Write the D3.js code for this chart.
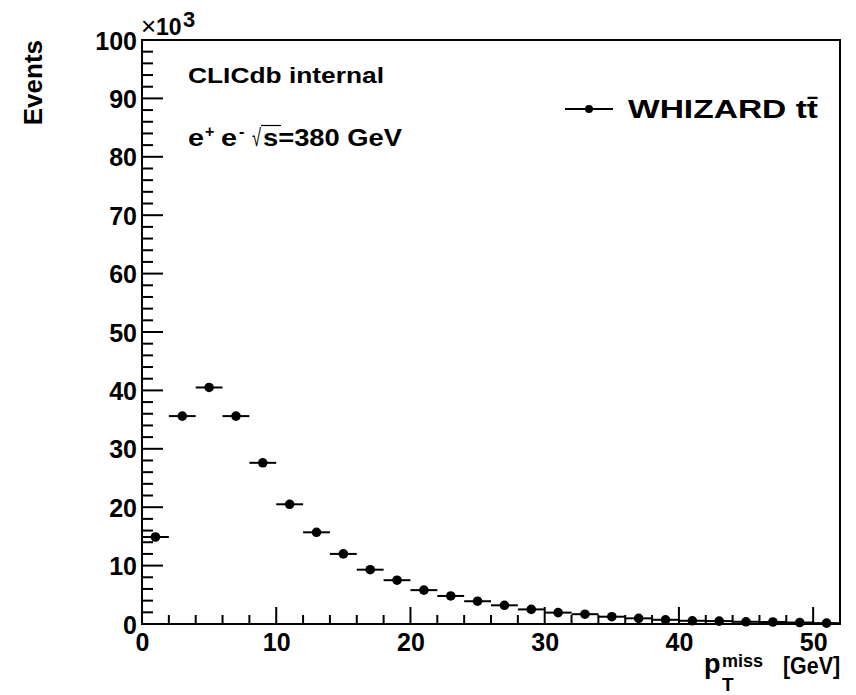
<!DOCTYPE html>
<html>
<head>
<meta charset="utf-8">
<script src="https://cdn.jsdelivr.net/npm/d3@7"></script>
<style>
  body { margin: 0; background: #fff; }
  text { font-family: "Liberation Sans", Arial, Helvetica, sans-serif; font-weight: bold; fill: #000; }
</style>
</head>
<body>
<svg id="svg"></svg>
<script>
/**
 * CONSTANTS AND GLOBALS
 * */
const width = 856,
  height = 695,
  margin = { top: 40, bottom: 71, left: 142, right: 16 };

// bin centres of p_T^miss [GeV], 2 GeV wide bins
const binCenters = d3.range(1, 52, 2);
const binWidth = 2;
// events per bin
const events = [14900, 35600, 40500, 35600, 27600, 20500, 15700, 12000, 9300, 7500,
  5800, 4800, 3900, 3200, 2500, 1950, 1680, 1250, 970, 720,
  550, 500, 380, 340, 250, 150];
const xTicks = [0, 10, 20, 30, 40, 50];
const yTicks = [0, 10, 20, 30, 40, 50, 60, 70, 80, 90, 100];

const data = binCenters.map((c, i) => ({ x: c, y: events[i] }));

const svg = d3.select("#svg")
  .attr("width", width)
  .attr("height", height);

const xScale = d3.scaleLinear()
  .domain([0, 52])
  .range([margin.left, width - margin.right]);

const yScale = d3.scaleLinear()
  .domain([0, 100000])
  .range([height - margin.bottom, margin.top]);

const y0 = yScale(0), x0 = xScale(0);

// tick marks (all ticks point into the frame, ROOT style)
const xTickVals = d3.range(2, 53, 2);
const yTickVals = d3.range(2000, 100001, 2000);

svg.append("g")
  .selectAll("rect")
  .data(xTickVals)
  .join("rect")
  .attr("x", v => xScale(v) - 1)
  .attr("y", v => y0 - (v % 10 === 0 ? 17 : 9))
  .attr("width", 2)
  .attr("height", v => (v % 10 === 0 ? 17 : 9))
  .attr("fill", "#000");

svg.append("g")
  .selectAll("rect")
  .data(yTickVals)
  .join("rect")
  .attr("x", x0)
  .attr("y", v => yScale(v) - 1)
  .attr("width", v => (v % 10000 === 0 ? 21 : 11))
  .attr("height", 2)
  .attr("fill", "#000");

function styleAxis(g) {
  g.select(".domain").remove();
  g.selectAll("line").remove();
  g.selectAll("text")
    .attr("font-size", 25)
    .attr("fill", "#000")
    .attr("font-family", "Liberation Sans, Arial, sans-serif");
}

// tick labels
svg.append("g")
  .attr("transform", `translate(0,${y0})`)
  .call(d3.axisBottom(xScale).tickValues(xTicks).tickSize(0).tickPadding(9))
  .call(styleAxis);

svg.append("g")
  .attr("transform", `translate(${x0},0)`)
  .call(d3.axisLeft(yScale).tickValues(yTicks.map(d => d * 1000)).tickSize(0).tickPadding(5)
    .tickFormat(d => d / 1000))
  .call(styleAxis)
  .call(g => g.selectAll("text").attr("dy", "0.36em"));

// frame
svg.append("rect")
  .attr("x", x0)
  .attr("y", yScale(100000))
  .attr("width", xScale(52) - x0)
  .attr("height", y0 - yScale(100000))
  .attr("fill", "none")
  .attr("stroke", "#000")
  .attr("stroke-width", 2);

// exponent label
svg.append("text")
  .attr("x", 141).attr("y", 35)
  .attr("font-size", 26)
  .style("font-weight", "normal")
  .text("\u00d7");
svg.append("text")
  .attr("x", 156).attr("y", 35)
  .attr("font-size", 23)
  .text("10");
svg.append("text")
  .attr("x", 183).attr("y", 27)
  .attr("font-size", 22)
  .text("3");

// horizontal bin bars
svg.append("g")
  .selectAll("line")
  .data(data)
  .join("line")
  .attr("x1", d => xScale(d.x - binWidth / 2))
  .attr("x2", d => xScale(d.x + binWidth / 2))
  .attr("y1", d => yScale(d.y))
  .attr("y2", d => yScale(d.y))
  .attr("stroke", "#000")
  .attr("stroke-width", 2);

// markers
svg.append("g")
  .selectAll("circle")
  .data(data)
  .join("circle")
  .attr("cx", d => xScale(d.x))
  .attr("cy", d => yScale(d.y))
  .attr("r", 4.8)
  .attr("fill", "#000");

// axis titles
svg.append("text")
  .attr("transform", "translate(42,40) rotate(-90)")
  .attr("text-anchor", "end")
  .attr("font-size", 26)
  .text("Events");

const xt = 673;
svg.append("text").attr("x", 704).attr("y", xt).attr("font-size", 27).text("p");
svg.append("text").attr("x", 722).attr("y", 691).attr("font-size", 19).text("T");
svg.append("text").attr("x", 722).attr("y", xt - 6)
  .attr("font-size", 19).attr("textLength", 41).attr("lengthAdjust", "spacingAndGlyphs").text("miss");
svg.append("text").attr("x", 783).attr("y", xt + 1)
  .attr("font-size", 23).attr("textLength", 57).attr("lengthAdjust", "spacingAndGlyphs").text("[GeV]");

// labels inside the pad
svg.append("text")
  .attr("x", 188).attr("y", 82.5)
  .attr("font-size", 22)
  .attr("textLength", 196).attr("lengthAdjust", "spacingAndGlyphs")
  .text("CLICdb internal");

const subY = 146;
svg.append("text").attr("x", 188).attr("y", subY).attr("font-size", 24)
  .attr("textLength", 16).attr("lengthAdjust", "spacingAndGlyphs").text("e");
svg.append("text").attr("x", 205).attr("y", subY - 9).attr("font-size", 16).text("+");
svg.append("text").attr("x", 221).attr("y", subY).attr("font-size", 24)
  .attr("textLength", 16).attr("lengthAdjust", "spacingAndGlyphs").text("e");
svg.append("text").attr("x", 239).attr("y", subY - 9).attr("font-size", 16).text("-");
svg.append("text").attr("x", 252).attr("y", subY).attr("font-size", 24)
  .attr("textLength", 9).attr("lengthAdjust", "spacingAndGlyphs")
  .style("font-weight", "normal").text("\u221a");
svg.append("line")
  .attr("x1", 261).attr("x2", 281)
  .attr("y1", 125.5).attr("y2", 125.5)
  .attr("stroke", "#000").attr("stroke-width", 1.2);
svg.append("text").attr("x", 263).attr("y", subY).attr("font-size", 24)
  .attr("textLength", 139).attr("lengthAdjust", "spacingAndGlyphs").text("s=380 GeV");

// legend
const legY = 109;
svg.append("line")
  .attr("x1", 565).attr("x2", 613)
  .attr("y1", legY).attr("y2", legY)
  .attr("stroke", "#000").attr("stroke-width", 2);
svg.append("circle")
  .attr("cx", 589).attr("cy", legY).attr("r", 4)
  .attr("fill", "#000");
svg.append("text")
  .attr("x", 628).attr("y", 118)
  .attr("font-size", 26)
  .attr("textLength", 190).attr("lengthAdjust", "spacingAndGlyphs")
  .text("WHIZARD t\u0074\u0304");
</script>
</body>
</html>
